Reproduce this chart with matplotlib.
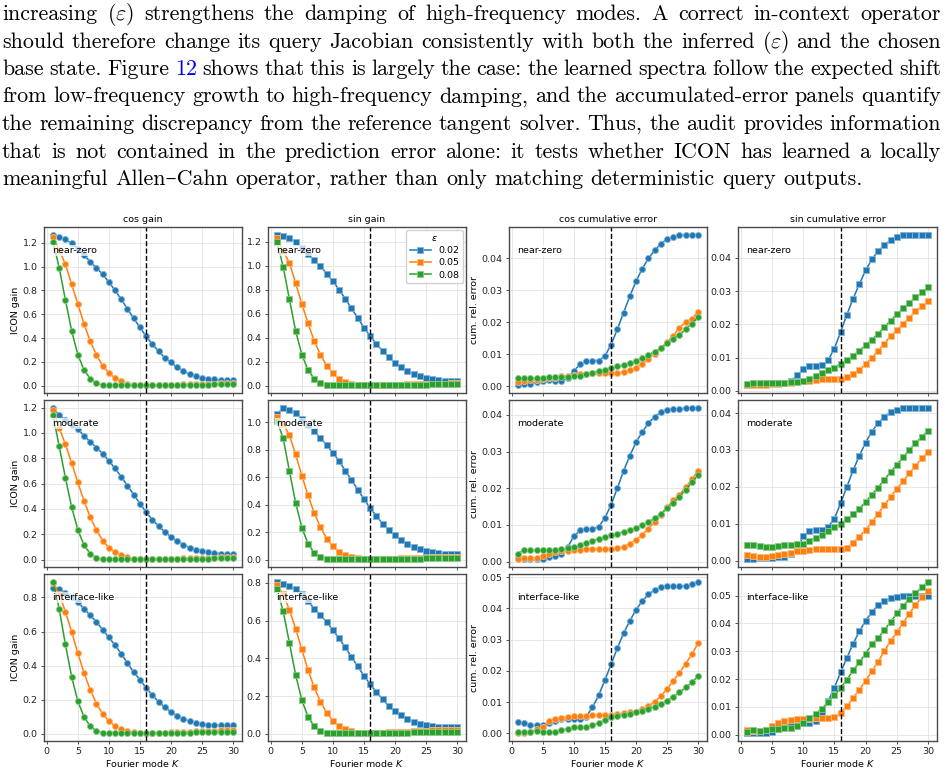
import numpy as np
import matplotlib
matplotlib.use("Agg")
import matplotlib.pyplot as plt
from matplotlib.colors import to_rgb

# ---- data -------------------------------------------------------------
K = np.arange(1, 31)
eps_labels = ["0.02", "0.05", "0.08"]
colors = ["#1f77b4", "#ff7f0e", "#2ca02c"]
regimes = ["near-zero", "moderate", "interface-like"]
col_titles = ["cos gain", "sin gain", "cos cumulative error", "sin cumulative error"]

# gain spectra, one list per eps (0.02, 0.05, 0.08)
cos_gain_near = [
    [1.27, 1.25, 1.23, 1.195, 1.15, 1.10, 1.04, 0.99, 0.935, 0.87, 0.80, 0.725, 0.645, 0.565, 0.49,
     0.415, 0.35, 0.29, 0.235, 0.195, 0.155, 0.125, 0.095, 0.08, 0.068, 0.06, 0.053, 0.048, 0.045, 0.045],
    [1.25, 1.14, 1.02, 0.855, 0.685, 0.52, 0.373, 0.258, 0.168, 0.107, 0.065, 0.036, 0.017, 0.006, 0.003,
     0.003, 0.004, 0.005, 0.006, 0.008, 0.009, 0.011, 0.012, 0.014, 0.015, 0.017, 0.018, 0.019, 0.020, 0.021],
    [1.21, 0.99, 0.72, 0.463, 0.26, 0.132, 0.059, 0.02, 0.005, 0.002, 0.002, 0.002, 0.002, 0.002, 0.002,
     0.003, 0.003, 0.004, 0.004, 0.005, 0.006, 0.006, 0.007, 0.008, 0.009, 0.010, 0.011, 0.012, 0.012, 0.013],
]
sin_gain_near = [
    [1.26, 1.25, 1.23, 1.20, 1.15, 1.095, 1.045, 0.995, 0.935, 0.87, 0.80, 0.725, 0.645, 0.565, 0.485,
     0.415, 0.35, 0.29, 0.237, 0.19, 0.155, 0.12, 0.095, 0.078, 0.064, 0.056, 0.047, 0.042, 0.039, 0.039],
    [1.235, 1.12, 1.025, 0.855, 0.683, 0.52, 0.372, 0.258, 0.167, 0.103, 0.058, 0.028, 0.011, 0.003, 0.002,
     0.003, 0.004, 0.005, 0.006, 0.008, 0.009, 0.011, 0.012, 0.014, 0.015, 0.016, 0.017, 0.018, 0.019, 0.020],
    [1.20, 0.99, 0.72, 0.458, 0.26, 0.13, 0.058, 0.022, 0.005, 0.002, 0.002, 0.002, 0.002, 0.002, 0.002,
     0.003, 0.003, 0.004, 0.004, 0.005, 0.006, 0.006, 0.007, 0.008, 0.009, 0.010, 0.011, 0.012, 0.012, 0.013],
]
cos_gain_mod = [
    [1.20, 1.14, 1.10, 1.06, 1.03, 0.978, 0.93, 0.885, 0.837, 0.78, 0.72, 0.654, 0.583, 0.514, 0.442,
     0.376, 0.315, 0.265, 0.22, 0.18, 0.148, 0.119, 0.095, 0.08, 0.066, 0.058, 0.053, 0.048, 0.045, 0.043],
    [1.18, 1.04, 0.91, 0.765, 0.61, 0.463, 0.336, 0.233, 0.151, 0.095, 0.058, 0.034, 0.019, 0.008, 0.003,
     0.003, 0.004, 0.005, 0.006, 0.007, 0.009, 0.010, 0.012, 0.013, 0.015, 0.016, 0.017, 0.018, 0.019, 0.020],
    [1.14, 0.895, 0.646, 0.416, 0.236, 0.114, 0.048, 0.016, 0.004, 0.002, 0.002, 0.002, 0.002, 0.002, 0.002,
     0.003, 0.003, 0.004, 0.004, 0.005, 0.006, 0.006, 0.007, 0.008, 0.008, 0.009, 0.010, 0.011, 0.011, 0.012],
]
sin_gain_mod = [
    [1.058, 1.107, 1.093, 1.068, 1.024, 0.98, 0.934, 0.888, 0.832, 0.778, 0.717, 0.649, 0.58, 0.51, 0.441,
     0.376, 0.32, 0.263, 0.217, 0.178, 0.146, 0.117, 0.095, 0.078, 0.066, 0.056, 0.049, 0.044, 0.041, 0.039],
    [1.04, 0.985, 0.907, 0.766, 0.612, 0.468, 0.339, 0.237, 0.154, 0.098, 0.059, 0.034, 0.02, 0.01, 0.003,
     0.003, 0.004, 0.005, 0.006, 0.008, 0.009, 0.011, 0.012, 0.014, 0.015, 0.016, 0.017, 0.018, 0.019, 0.020],
    [1.01, 0.883, 0.646, 0.415, 0.234, 0.115, 0.051, 0.02, 0.005, 0.002, 0.002, 0.002, 0.002, 0.002, 0.002,
     0.003, 0.003, 0.004, 0.004, 0.005, 0.006, 0.006, 0.007, 0.008, 0.009, 0.010, 0.011, 0.012, 0.012, 0.013],
]
cos_gain_int = [
    [0.857, 0.849, 0.828, 0.80, 0.772, 0.733, 0.696, 0.656, 0.611, 0.565, 0.52, 0.469, 0.414, 0.362, 0.317,
     0.27, 0.227, 0.187, 0.156, 0.128, 0.106, 0.089, 0.073, 0.063, 0.055, 0.051, 0.049, 0.049, 0.049, 0.049],
    [0.883, 0.82, 0.717, 0.599, 0.473, 0.357, 0.258, 0.177, 0.116, 0.075, 0.045, 0.028, 0.016, 0.008, 0.004,
     0.004, 0.005, 0.006, 0.007, 0.009, 0.010, 0.012, 0.013, 0.015, 0.016, 0.018, 0.019, 0.020, 0.021, 0.022],
    [0.893, 0.733, 0.524, 0.335, 0.191, 0.099, 0.045, 0.016, 0.006, 0.003, 0.002, 0.002, 0.002, 0.002, 0.002,
     0.003, 0.003, 0.004, 0.004, 0.005, 0.006, 0.006, 0.007, 0.008, 0.008, 0.009, 0.010, 0.011, 0.011, 0.012],
]
sin_gain_int = [
    [0.806, 0.793, 0.781, 0.765, 0.738, 0.703, 0.663, 0.629, 0.592, 0.549, 0.505, 0.458, 0.408, 0.357, 0.309,
     0.263, 0.223, 0.184, 0.148, 0.122, 0.099, 0.078, 0.065, 0.055, 0.048, 0.042, 0.039, 0.037, 0.035, 0.035],
    [0.79, 0.738, 0.657, 0.557, 0.447, 0.339, 0.246, 0.171, 0.113, 0.071, 0.042, 0.025, 0.014, 0.007, 0.004,
     0.005, 0.006, 0.007, 0.009, 0.010, 0.012, 0.013, 0.015, 0.016, 0.018, 0.019, 0.020, 0.021, 0.022, 0.023],
    [0.769, 0.648, 0.482, 0.313, 0.18, 0.09, 0.042, 0.016, 0.007, 0.004, 0.003, 0.003, 0.003, 0.003, 0.003,
     0.004, 0.004, 0.005, 0.005, 0.006, 0.006, 0.007, 0.008, 0.008, 0.009, 0.010, 0.010, 0.011, 0.012, 0.012],
]

# cumulative relative error
cos_err_near = [
    [0.0002, 0.0005, 0.0008, 0.0014, 0.0017, 0.0018, 0.0015, 0.0016, 0.0024, 0.0048, 0.0068, 0.0079, 0.008, 0.008, 0.0094,
     0.013, 0.0178, 0.023, 0.0281, 0.0328, 0.0367, 0.04, 0.0425, 0.0446, 0.046, 0.0468, 0.0473, 0.0474, 0.0475, 0.0475],
    [0.0013, 0.0016, 0.0019, 0.002, 0.0022, 0.0024, 0.0026, 0.0031, 0.0033, 0.0035, 0.0037, 0.0039, 0.004, 0.004, 0.004,
     0.0041, 0.0042, 0.0044, 0.005, 0.0058, 0.007, 0.0085, 0.0102, 0.012, 0.0137, 0.0158, 0.0183, 0.0201, 0.0211, 0.0233],
    [0.0024, 0.0026, 0.0025, 0.0025, 0.0026, 0.0027, 0.0028, 0.0029, 0.003, 0.0031, 0.0033, 0.0038, 0.0042, 0.0047, 0.0051,
     0.0056, 0.0062, 0.0066, 0.0072, 0.008, 0.0088, 0.0097, 0.0108, 0.0118, 0.0135, 0.0148, 0.016, 0.0178, 0.0196, 0.0215],
]
sin_err_near = [
    [0.0017, 0.002, 0.0021, 0.0024, 0.0024, 0.0022, 0.0023, 0.0029, 0.0046, 0.0064, 0.0076, 0.0076, 0.0077, 0.0092, 0.0127,
     0.0177, 0.0229, 0.0277, 0.0321, 0.0362, 0.0395, 0.042, 0.0438, 0.0453, 0.0463, 0.0468, 0.047, 0.047, 0.047, 0.047],
    [0.0016, 0.0016, 0.0017, 0.0018, 0.0019, 0.0021, 0.0023, 0.0024, 0.0026, 0.0028, 0.003, 0.0032, 0.0034, 0.0034, 0.0035,
     0.0036, 0.004, 0.0049, 0.0063, 0.0081, 0.0099, 0.0121, 0.0142, 0.0164, 0.0182, 0.0201, 0.022, 0.0239, 0.0255, 0.0269],
    [0.0021, 0.0024, 0.0023, 0.0023, 0.0023, 0.0024, 0.0024, 0.0025, 0.0026, 0.003, 0.0036, 0.0043, 0.0052, 0.0061, 0.007,
     0.0082, 0.0092, 0.0106, 0.0121, 0.0137, 0.0154, 0.0172, 0.0191, 0.0211, 0.023, 0.0248, 0.0265, 0.0281, 0.0296, 0.0312],
]
cos_err_mod = [
    [0.0009, 0.0007, 0.0006, 0.0006, 0.0008, 0.0013, 0.0014, 0.0022, 0.004, 0.0069, 0.0085, 0.009, 0.0089, 0.0095, 0.0119,
     0.0155, 0.02, 0.0247, 0.0288, 0.0325, 0.0353, 0.0377, 0.0395, 0.0407, 0.0414, 0.0416, 0.0417, 0.0418, 0.0418, 0.042],
    [0.0007, 0.0009, 0.001, 0.0011, 0.0016, 0.0021, 0.0025, 0.0028, 0.003, 0.0032, 0.0033, 0.0034, 0.0034, 0.0034, 0.0034,
     0.0034, 0.0037, 0.0041, 0.0049, 0.006, 0.0073, 0.009, 0.0108, 0.0128, 0.0148, 0.0168, 0.0182, 0.0203, 0.0224, 0.0248],
    [0.0022, 0.0032, 0.0032, 0.0031, 0.0031, 0.0031, 0.0032, 0.0034, 0.0037, 0.004, 0.0045, 0.0051, 0.0057, 0.0062, 0.0067,
     0.0072, 0.0076, 0.0081, 0.0086, 0.0092, 0.01, 0.0108, 0.0118, 0.013, 0.0145, 0.016, 0.0177, 0.0196, 0.0216, 0.0236],
]
sin_err_mod = [
    [0.0003, 0.0005, 0.0006, 0.0007, 0.0008, 0.001, 0.001, 0.0018, 0.0027, 0.0066, 0.0081, 0.0084, 0.0083, 0.0091, 0.0114,
     0.0155, 0.02, 0.0245, 0.0284, 0.032, 0.035, 0.0373, 0.039, 0.0402, 0.0409, 0.0413, 0.0414, 0.0415, 0.0415, 0.0415],
    [0.0015, 0.0011, 0.001, 0.001, 0.0012, 0.0015, 0.0017, 0.0021, 0.0025, 0.0027, 0.0028, 0.003, 0.003, 0.003, 0.003,
     0.0031, 0.0035, 0.0048, 0.0065, 0.0083, 0.0104, 0.0127, 0.015, 0.0172, 0.0195, 0.0215, 0.0237, 0.0257, 0.0277, 0.0295],
    [0.0043, 0.0042, 0.0039, 0.0038, 0.0038, 0.0039, 0.0041, 0.0042, 0.0044, 0.0046, 0.0054, 0.0061, 0.0069, 0.008, 0.009,
     0.01, 0.0112, 0.0126, 0.0141, 0.0159, 0.0179, 0.0198, 0.0219, 0.024, 0.026, 0.028, 0.03, 0.0318, 0.0336, 0.0352],
]
cos_err_int = [
    [0.0036, 0.0032, 0.0028, 0.0028, 0.0026, 0.0032, 0.0041, 0.0045, 0.0046, 0.0046, 0.0045, 0.0054, 0.0084, 0.0122, 0.0171,
     0.0221, 0.0273, 0.032, 0.036, 0.0395, 0.0423, 0.0445, 0.0459, 0.0468, 0.0471, 0.0471, 0.0472, 0.0473, 0.0477, 0.0486],
    [0.0, 0.0002, 0.0006, 0.0013, 0.0021, 0.004, 0.0047, 0.005, 0.0054, 0.0055, 0.0056, 0.0057, 0.0058, 0.0058, 0.0059,
     0.006, 0.0062, 0.0064, 0.0067, 0.007, 0.0077, 0.0087, 0.0101, 0.0119, 0.0142, 0.0168, 0.0194, 0.0223, 0.0253, 0.0288],
    [0.0004, 0.0003, 0.0005, 0.0008, 0.0006, 0.0005, 0.0006, 0.001, 0.0015, 0.0019, 0.002, 0.0021, 0.0027, 0.0033, 0.0043,
     0.0054, 0.0057, 0.006, 0.0063, 0.0067, 0.0073, 0.0079, 0.0086, 0.0094, 0.0105, 0.0117, 0.0131, 0.0147, 0.0163, 0.0183],
]
sin_err_int = [
    [0.0007, 0.0008, 0.0007, 0.0005, 0.0011, 0.0022, 0.0032, 0.0038, 0.0042, 0.0042, 0.0042, 0.0049, 0.0078, 0.012, 0.0169,
     0.0224, 0.0276, 0.0327, 0.0371, 0.041, 0.044, 0.0466, 0.0481, 0.049, 0.0495, 0.0499, 0.05, 0.05, 0.05, 0.05],
    [0.0018, 0.0014, 0.0013, 0.0016, 0.0031, 0.0042, 0.0049, 0.0054, 0.0055, 0.0056, 0.0056, 0.0059, 0.006, 0.006, 0.0065,
     0.0078, 0.0103, 0.0132, 0.0162, 0.0194, 0.0228, 0.0262, 0.03, 0.0337, 0.0368, 0.0401, 0.0435, 0.0466, 0.0493, 0.0516],
    [0.001, 0.0016, 0.0014, 0.0018, 0.002, 0.0022, 0.0024, 0.0026, 0.0031, 0.0042, 0.0059, 0.0076, 0.0094, 0.0118, 0.0142,
     0.0168, 0.0198, 0.0231, 0.026, 0.0291, 0.0325, 0.0346, 0.0377, 0.0404, 0.0436, 0.0463, 0.0486, 0.0508, 0.053, 0.055],
]

grid_data = [
    [cos_gain_near, sin_gain_near, cos_err_near, sin_err_near],
    [cos_gain_mod, sin_gain_mod, cos_err_mod, sin_err_mod],
    [cos_gain_int, sin_gain_int, cos_err_int, sin_err_int],
]

paragraph = [
    "increasing $(\\varepsilon)$ strengthens the damping of high-frequency modes. A correct in-context operator",
    "should therefore change its query Jacobian consistently with both the inferred $(\\varepsilon)$ and the chosen",
    "base state. Figure 12 shows that this is largely the case: the learned spectra follow the expected shift",
    "from low-frequency growth to high-frequency damping, and the accumulated-error panels quantify",
    "the remaining discrepancy from the reference tangent solver. Thus, the audit provides information",
    "that is not contained in the prediction error alone: it tests whether ICON has learned a locally",
    "meaningful Allen\u2013Cahn operator, rather than only matching deterministic query outputs.",
]

# ---- figure ----------------------------------------------------------
W, H = 948, 773
fig = plt.figure(figsize=(W / 100, H / 100), dpi=100)
fs = 6.8
serif = ["cmr10", "DejaVu Serif"]

renderer = fig.canvas.get_renderer()


def word_texts(line, y, size):
    out = []
    for w in line.split(" "):
        c = "#0000ee" if w == "12" else "black"
        out.append(fig.text(0, y, w, fontsize=size, family=serif, color=c,
                            math_fontfamily="cm", va="baseline"))
    return out


# pick the paragraph size so the last (ragged) line ends where it does in the reference:
# words + TeX interword spaces of 1/3 em
probe = word_texts(paragraph[-1], 0, 16)
w16 = sum(t.get_window_extent(renderer).width for t in probe)
for t in probe:
    t.remove()
n_sp = len(probe) - 1
psize = 860 / (w16 / 16 + n_sp * (1 / 3) * 100 / 72)
space = (1 / 3) * psize * 100 / 72

x_left, x_right = 2, 941
for i, line in enumerate(paragraph):
    yb = 1 - (20 + i * 27.5) / H
    texts = word_texts(line, yb, psize)
    widths = [t.get_window_extent(renderer).width for t in texts]
    if i == len(paragraph) - 1:
        gap = space
    else:
        gap = (x_right - x_left - sum(widths)) / (len(texts) - 1)
    x = x_left
    for t, wd in zip(texts, widths):
        t.set_x(x / W)
        x += wd + gap


def light(c, f=0.45):
    r, g, b = to_rgb(c)
    return (r + (1 - r) * f, g + (1 - g) * f, b + (1 - b) * f)


col_x = [(44, 242), (268, 466), (509, 707), (738, 937)]
row_y = [(227, 393), (400, 567), (574, 741)]

for r, (top, bot) in enumerate(row_y):
    for c, (left, right) in enumerate(col_x):
        ax = fig.add_axes([left / W, 1 - bot / H, (right - left) / W, (bot - top) / H])
        marker = "o" if c in (0, 2) else "s"
        ms = 4.4 if marker == "o" else 4.0
        for y, col, lab in zip(grid_data[r][c], colors, eps_labels):
            ax.plot(K, y, marker=marker, color=col, lw=1.1, ms=ms,
                    mec=light(col), mew=0.6, label=lab)
        ax.axvline(16, color="k", ls="--", lw=1.0)
        ax.set_xlim(-0.45, 31.45)
        ax.set_xticks(range(0, 31, 5))
        ax.grid(True, color="#e3e3e3", lw=0.6)
        ax.set_axisbelow(True)
        for s in ax.spines.values():
            s.set_color("#4a4a4a")
            s.set_linewidth(1.0)
        ax.tick_params(labelsize=fs, length=2.5, width=0.6, pad=2, colors="#333333",
                       labelcolor="#222222")
        if r < 2:
            ax.tick_params(labelbottom=False)
        else:
            ax.set_xlabel("Fourier mode $K$", fontsize=fs, labelpad=1.5)
        if r == 0:
            ax.set_title(col_titles[c], fontsize=fs, pad=3.5)
        if c == 0:
            ax.set_ylabel("ICON gain", fontsize=fs, labelpad=2)
        if c == 2:
            ax.set_ylabel("cum. rel. error", fontsize=fs, labelpad=2)
        ax.text(0.04, 0.86, regimes[r], transform=ax.transAxes, fontsize=fs, va="center",
                bbox=dict(fc="white", ec="none", alpha=0.7, pad=0.8))
        if r == 0 and c == 1:
            ax.legend(title="$\\varepsilon$", loc="upper right", fontsize=fs,
                      title_fontsize=fs, handlelength=2.2, borderaxespad=0.3,
                      labelspacing=0.35, borderpad=0.4, framealpha=0.9)

fig.savefig("out.png", dpi=100)
